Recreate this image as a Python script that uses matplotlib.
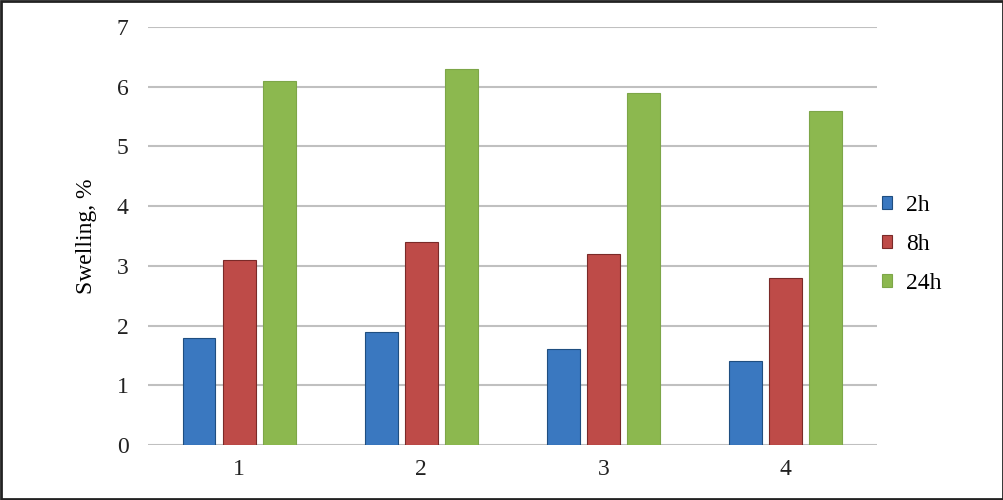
"""Grouped bar chart of swelling over time."""

import matplotlib.pyplot as plt
import numpy as np

plt.rcParams["font.family"] = ["Liberation Serif", "DejaVu Serif"]

# Data
samples = ["1", "2", "3", "4"]
swell_2h = [1.8, 1.9, 1.6, 1.4]
swell_8h = [3.1, 3.4, 3.2, 2.8]
swell_24h = [6.1, 6.3, 5.9, 5.6]

series = {"2h": swell_2h, "8h": swell_8h, "24h": swell_24h}
colors = ["#3A78C0", "#BE4B48", "#8CB84F"]
edges = ["#1F4E80", "#7A2A28", "#7DA648"]

fig = plt.figure(figsize=(10.04, 5), dpi=100)
ax = fig.add_axes([0.1474, 0.11, 0.726, 0.836])

x = np.arange(len(samples))
BAR_WIDTH = 0.18
STEP = 0.22
for i, (name, values) in enumerate(series.items()):
    ax.bar(x + (i - 1) * STEP, values, width=BAR_WIDTH, color=colors[i],
           edgecolor=edges[i], linewidth=0.8, label=name, zorder=3)

ax.set_xlim(-0.5, len(samples) - 0.5)
ax.set_ylim(0, 7)
ax.set_yticks(range(0, 8))
ax.set_xticks(x)
ax.set_xticklabels(samples)
ax.tick_params(axis="both", length=0, labelsize=17, colors="#222222")
ax.tick_params(axis="x", pad=10)
ax.tick_params(axis="y", pad=14)
ax.grid(axis="y", color="#C0C0C0", linewidth=1.5, zorder=0)
for spine in ax.spines.values():
    spine.set_visible(False)

ax.set_ylabel("Swelling, %", fontsize=17, labelpad=14)

ax.legend(loc="center left", bbox_to_anchor=(1.0, 0.48), frameon=False,
          fontsize=17, handlelength=0.45, handleheight=0.45,
          handletextpad=0.6, labelspacing=0.75, borderaxespad=0.1,
          borderpad=0.1)

# Frame around the whole image
fig.patches.append(plt.Rectangle((0.001, 0.002), 0.998, 0.996, transform=fig.transFigure,
                                 fill=False, edgecolor="#222222", linewidth=2))

fig.savefig("out.png", dpi=100)
